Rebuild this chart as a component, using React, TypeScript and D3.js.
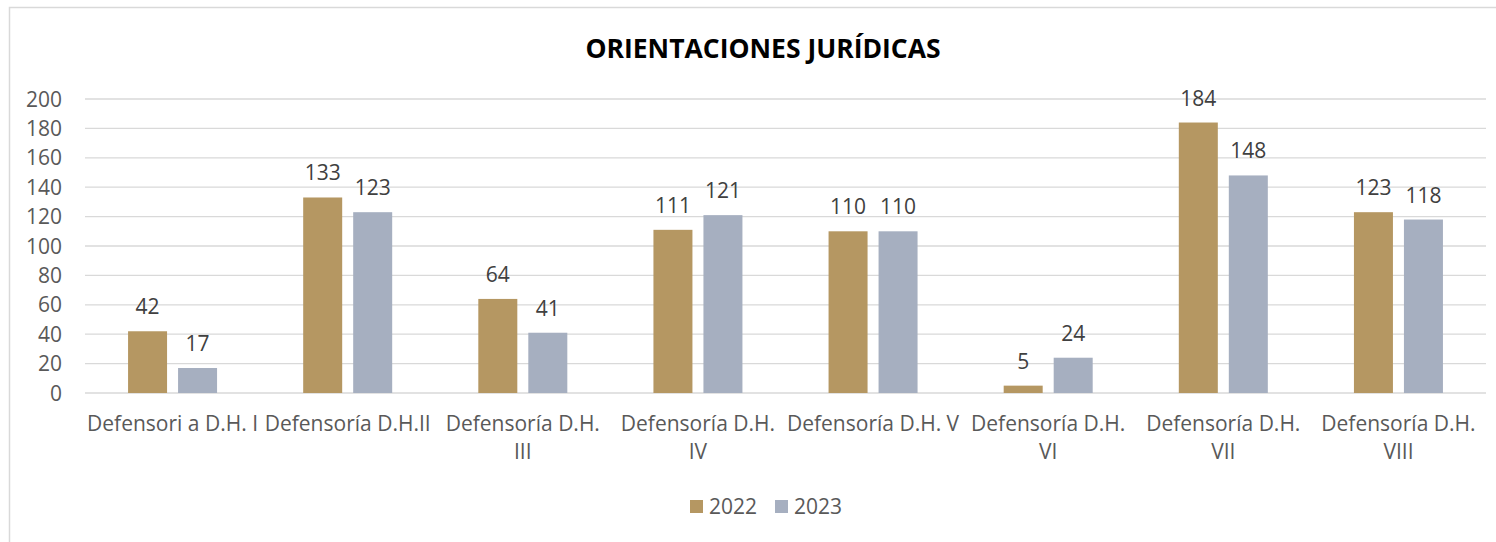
import React, { useEffect, useRef } from 'react';
import * as d3 from 'd3';

const categories = [
  ['Defensori a D.H. I'],
  ['Defensoría D.H.II'],
  ['Defensoría D.H.', 'III'],
  ['Defensoría D.H.', 'IV'],
  ['Defensoría D.H. V'],
  ['Defensoría D.H.', 'VI'],
  ['Defensoría D.H.', 'VII'],
  ['Defensoría D.H.', 'VIII'],
];
const values2022 = [42, 133, 64, 111, 110, 5, 184, 123];
const values2023 = [17, 123, 41, 121, 110, 24, 148, 118];
const seriesNames = ['2022', '2023'];
const yTicks = [0, 20, 40, 60, 80, 100, 120, 140, 160, 180, 200];

export default function App() {
  const svgRef = useRef<SVGSVGElement>(null);

  useEffect(() => {
    if (!svgRef.current) return;
    const svg = d3.select(svgRef.current);
    svg.selectAll('*').remove();

    const width = 1496;
    const height = 542;
    const font = '"Open Sans", sans-serif';
    const fs = 21;
    const textColor = '#595959';
    const colors = ['#B59762', '#A6AFC0'];
    const left = 85, right = 1486, top = 99, bottom = 393;

    svg.append('rect').attr('width', width).attr('height', height).attr('fill', '#fff');
    // chart frame
    svg.append('rect').attr('x', 9.5).attr('y', 7.5).attr('width', width).attr('height', height)
      .attr('fill', 'none').attr('stroke', '#D9D9D9').attr('stroke-width', 1.5);

    const x0 = d3.scaleBand().domain(d3.range(categories.length).map(String)).range([left, right]);
    const y = d3.scaleLinear().domain([0, 200]).range([bottom, top]);
    const barW = 39, gap = 11;

    // gridlines
    svg.append('g').selectAll('line').data(yTicks).enter().append('line')
      .attr('x1', left).attr('x2', right)
      .attr('y1', d => y(d)).attr('y2', d => y(d))
      .attr('stroke', '#D9D9D9').attr('stroke-width', 1.3);

    // y tick labels
    svg.append('g').selectAll('text').data(yTicks).enter().append('text')
      .attr('x', 62).attr('y', d => y(d) + 7.5)
      .attr('text-anchor', 'end').attr('font-family', font).attr('font-size', fs)
      .attr('fill', textColor).text(d => d);

    const series = [values2022, values2023];
    series.forEach((vals, si) => {
      const g = svg.append('g');
      const bx = (i: number) => x0(String(i))! + x0.bandwidth() / 2 + (si === 0 ? -gap / 2 - barW : gap / 2);
      g.selectAll('rect').data(vals).enter().append('rect')
        .attr('x', (d, i) => bx(i)).attr('width', barW)
        .attr('y', d => y(d)).attr('height', d => bottom - y(d))
        .attr('fill', colors[si]);
      g.selectAll('text').data(vals).enter().append('text')
        .attr('x', (d, i) => bx(i) + barW / 2).attr('y', d => y(d) - 17)
        .attr('text-anchor', 'middle').attr('font-family', font).attr('font-size', fs)
        .attr('fill', '#404040').text(d => d);
    });

    // category labels
    categories.forEach((lines, i) => {
      const cx = x0(String(i))! + x0.bandwidth() / 2;
      const t = svg.append('text')
        .attr('x', cx).attr('y', 431)
        .attr('text-anchor', 'middle').attr('font-family', font).attr('font-size', fs)
        .attr('fill', textColor);
      lines.forEach((ln, k) => {
        t.append('tspan').attr('x', cx).attr('dy', k === 0 ? 0 : 28).text(ln);
      });
    });

    // title
    svg.append('text').attr('x', 763).attr('y', 58).attr('text-anchor', 'middle')
      .attr('font-family', font).attr('font-size', 26.5).attr('font-weight', 'bold')
      .attr('fill', '#000').text('ORIENTACIONES JURÍDICAS');

    // legend
    const legendX = [690, 775];
    seriesNames.forEach((name, i) => {
      svg.append('rect').attr('x', legendX[i]).attr('y', 500).attr('width', 13).attr('height', 13)
        .attr('fill', colors[i]);
      svg.append('text').attr('x', legendX[i] + 19).attr('y', 514)
        .attr('font-family', font).attr('font-size', fs).attr('fill', textColor).text(name);
    });
  }, []);

  return (
    <svg ref={svgRef} width={1496} height={542} style={{ position: 'absolute', left: 0, top: 0 }} />
  );
}
